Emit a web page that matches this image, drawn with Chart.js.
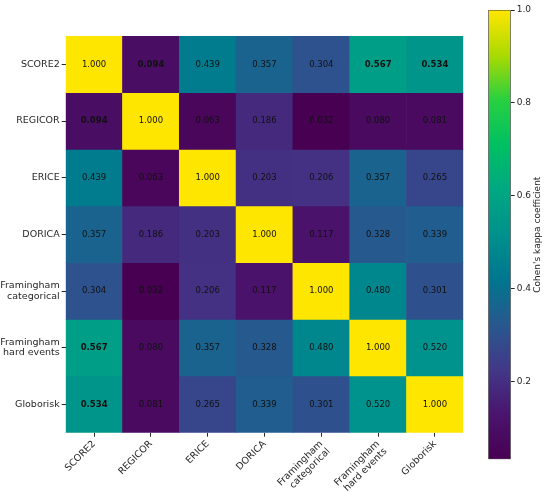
<!DOCTYPE html>
<html>
<head>
<meta charset="utf-8">
<script src="https://cdn.jsdelivr.net/npm/chart.js@4.4.1/dist/chart.umd.min.js"></script>
<style>
  html, body { margin: 0; padding: 0; background: #ffffff; }
  #wrap { position: relative; width: 550px; height: 492px; }
  canvas { position: absolute; left: 0; top: 0; }
</style>
</head>
<body>
<div id="wrap">
  <canvas id="heat" width="550" height="492"></canvas>
  <canvas id="cbar" width="550" height="492"></canvas>
</div>
<script>
// ---------------- data ----------------
const rowLabels = ['SCORE2', 'REGICOR', 'ERICE', 'DORICA', ['Framingham', 'categorical'], ['Framingham', 'hard events'], 'Globorisk'];
const colLabels = ['SCORE2', 'REGICOR', 'ERICE', 'DORICA', ['Framingham', 'categorical'], ['Framingham', 'hard events'], 'Globorisk'];
const kappa = [
  [1.000, 0.094, 0.439, 0.357, 0.304, 0.567, 0.534],
  [0.094, 1.000, 0.063, 0.186, 0.032, 0.080, 0.081],
  [0.439, 0.063, 1.000, 0.203, 0.206, 0.357, 0.265],
  [0.357, 0.186, 0.203, 1.000, 0.117, 0.328, 0.339],
  [0.304, 0.032, 0.206, 0.117, 1.000, 0.480, 0.301],
  [0.567, 0.080, 0.357, 0.328, 0.480, 1.000, 0.520],
  [0.534, 0.081, 0.265, 0.339, 0.301, 0.520, 1.000]
];
const boldCells = [[0, 1], [1, 0], [0, 5], [5, 0], [0, 6], [6, 0]];
const colorbarTicks = [0.2, 0.4, 0.6, 0.8, 1.0];
const colorbarTitle = "Cohen's kappa coefficient";

// ---------------- style ----------------
const FONT = "'DejaVu Sans', 'Liberation Sans', sans-serif";
const TEXT = '#262626';
const cmapStops = [
  [0.0, [72, 0, 82]],
  [0.1, [74, 20, 110]],
  [0.2, [66, 56, 136]],
  [0.3, [40, 88, 142]],
  [0.4, [0, 118, 143]],
  [0.5, [0, 145, 140]],
  [0.6, [0, 168, 130]],
  [0.7, [0, 192, 98]],
  [0.8, [40, 208, 64]],
  [0.9, [172, 218, 0]],
  [1.0, [255, 230, 0]]
];
const allVals = kappa.flat();
const vmin = Math.min(...allVals);
const vmax = Math.max(...allVals);

function cmap(v) {
  let t = (v - vmin) / (vmax - vmin);
  t = Math.max(0, Math.min(1, t));
  for (let i = 0; i < cmapStops.length - 1; i++) {
    const [t0, c0] = cmapStops[i], [t1, c1] = cmapStops[i + 1];
    if (t <= t1) {
      const f = (t - t0) / (t1 - t0);
      const c = c0.map((x, k) => Math.round(x + (c1[k] - x) * f));
      return `rgb(${c[0]},${c[1]},${c[2]})`;
    }
  }
  const c = cmapStops[cmapStops.length - 1][1];
  return `rgb(${c[0]},${c[1]},${c[2]})`;
}
function isBold(r, c) { return boldCells.some(([a, b]) => a === r && b === c); }

// ---------------- heatmap ----------------
const datasets = kappa.map((row, r) => ({
  label: typeof rowLabels[r] === 'string' ? rowLabels[r] : rowLabels[r].join(' '),
  data: row.map(() => [r, r + 1]),
  values: row,
  backgroundColor: row.map(v => cmap(v)),
  borderWidth: 0,
  barPercentage: 1.0,
  categoryPercentage: 1.0,
  grouped: false
}));

const cellText = {
  id: 'cellText',
  afterDatasetsDraw(chart) {
    const ctx = chart.ctx;
    ctx.save();
    ctx.textAlign = 'center';
    ctx.textBaseline = 'middle';
    ctx.fillStyle = '#111';
    chart.data.datasets.forEach((ds, r) => {
      const meta = chart.getDatasetMeta(r);
      meta.data.forEach((el, c) => {
        const v = ds.values[c];
        ctx.font = (isBold(r, c) ? 'bold ' : '') + '8.5px ' + FONT;
        ctx.fillText(v.toFixed(3), el.x, (el.y + el.base) / 2);
      });
    });
    ctx.restore();
  }
};

new Chart(document.getElementById('heat'), {
  type: 'bar',
  data: { labels: colLabels, datasets },
  options: {
    responsive: false,
    animation: false,
    devicePixelRatio: 1,
    layout: { padding: { top: 36, right: 86.7, left: 0, bottom: 0 } },
    plugins: { legend: { display: false }, tooltip: { enabled: false } },
    scales: {
      x: {
        type: 'category',
        offset: true,
        grid: { display: true, drawOnChartArea: false, drawTicks: true, tickLength: 4, color: TEXT, offset: false },
        border: { display: false },
        ticks: {
          autoSkip: false, minRotation: 45, maxRotation: 45, padding: 2,
          color: TEXT, font: { family: FONT, size: 9.5, lineHeight: 1.1 }
        },
        afterFit(scale) { scale.height = 59.3; }
      },
      y: {
        type: 'linear',
        min: 0, max: 7, reverse: true,
        grid: { display: true, drawOnChartArea: false, drawTicks: true, tickLength: 4, color: TEXT },
        border: { display: false },
        afterBuildTicks(scale) { scale.ticks = rowLabels.map((_, i) => ({ value: i + 0.5 })); },
        ticks: {
          padding: 2, color: TEXT, font: { family: FONT, size: 9.5, lineHeight: 1.1 },
          callback: (v) => rowLabels[Math.floor(v)]
        },
        afterFit(scale) { scale.width = 65.7; }
      }
    }
  },
  plugins: [cellText]
});

// ---------------- colorbar ----------------
const cbTitle = {
  id: 'cbTitle',
  afterDraw(chart) {
    const ctx = chart.ctx;
    const a = chart.chartArea;
    ctx.save();
    ctx.translate(538, (a.top + a.bottom) / 2);
    ctx.rotate(-Math.PI / 2);
    ctx.font = '9px ' + FONT;
    ctx.fillStyle = TEXT;
    ctx.textAlign = 'center';
    ctx.textBaseline = 'middle';
    ctx.fillText(colorbarTitle, 0, 0);
    ctx.restore();
  }
};

new Chart(document.getElementById('cbar'), {
  type: 'bar',
  data: {
    labels: [''],
    datasets: [{
      data: [[vmin, vmax]],
      backgroundColor(ctx) {
        const chart = ctx.chart;
        if (!chart.chartArea) return 'rgba(0,0,0,0)';
        const ys = chart.scales.y;
        const y0 = ys.getPixelForValue(vmin), y1 = ys.getPixelForValue(vmax);
        const g = chart.ctx.createLinearGradient(0, y0, 0, y1);
        cmapStops.forEach(([t, c]) => g.addColorStop(t, `rgb(${c[0]},${c[1]},${c[2]})`));
        return g;
      },
      borderColor: '#333',
      borderWidth: 0.8,
      borderSkipped: false,
      barPercentage: 1.0,
      categoryPercentage: 1.0
    }]
  },
  options: {
    responsive: false,
    animation: false,
    devicePixelRatio: 1,
    layout: { padding: { top: 10, left: 488.3, right: 0, bottom: 32.7 } },
    plugins: { legend: { display: false }, tooltip: { enabled: false } },
    scales: {
      x: { display: false },
      y: {
        position: 'right',
        min: vmin, max: vmax,
        grid: { display: true, drawOnChartArea: false, drawTicks: true, tickLength: 4, color: TEXT },
        border: { display: false },
        afterBuildTicks(scale) { scale.ticks = colorbarTicks.map(v => ({ value: v })); },
        ticks: {
          padding: 2, color: TEXT, font: { family: FONT, size: 9 },
          callback: (v) => Number(v).toFixed(1)
        },
        afterFit(scale) { scale.width = 39.3; }
      }
    }
  },
  plugins: [cbTitle]
});
</script>
</body>
</html>
